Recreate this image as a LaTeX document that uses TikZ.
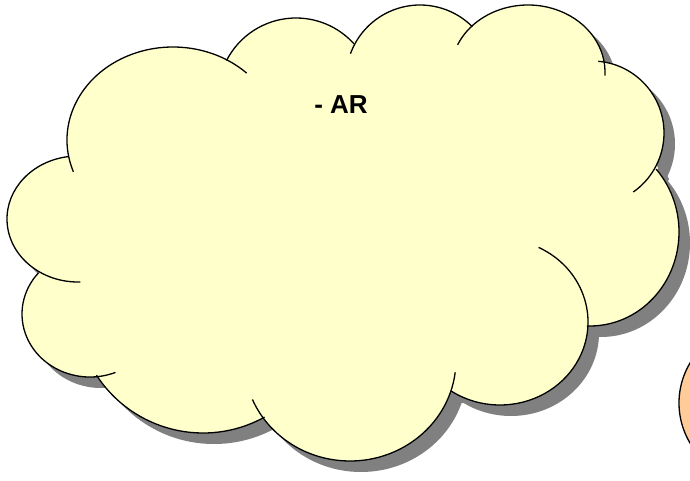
\documentclass[tikz,border=0pt]{standalone}
\usepackage{fontspec}
\setmainfont{Liberation Sans}
\definecolor{CloudColor}{RGB}{255,255,204}
\definecolor{ShadowColor}{RGB}{128,128,128}
\definecolor{BallColor}{RGB}{255,204,153}
% lobes of the cloud: centre x / centre y / x radius / y radius / start / end angle
\def\lobes{173/140/106/93/160/314, 296/96/78/78/207/318, 420/79/74/74/200/315,
  528/72/77/67/204/363, 592/133/72/72/275/415, 590/232/89/94/318/452,
  500/322/88/83/-64/124, 350/360/106/101/7/157, 203/306/127/127/61/147,
  90/314/68/63/68/221, 78/219/71/63/88/262}
\begin{document}
\begin{tikzpicture}[x=1pt, y=1pt, yscale=-1,
    lobeline/.style={black, line width=1.3pt},
    cloudtext/.style={font=\fontsize{26}{30}\selectfont\bfseries}]
    \useasboundingbox (0,0) rectangle (690,481);
    \clip (0,0) rectangle (690,481);
    % Shadow
    \begin{scope}[shift={(11,11)}]
        \foreach \cx/\cy/\rx/\ry/\a/\b in \lobes {\fill[ShadowColor] (\cx,\cy) ellipse[x radius=\rx, y radius=\ry];}
        \fill[ShadowColor] (68,157) -- (229,58) -- (357,40) -- (470,28) -- (603,62) -- (658,168)
            -- (588,323) -- (452,392) -- (263,418) -- (97,377) -- (38,273) -- cycle;
    \end{scope}
    % Cloud body
    \foreach \cx/\cy/\rx/\ry/\a/\b in \lobes {\fill[CloudColor] (\cx,\cy) ellipse[x radius=\rx, y radius=\ry];}
    \fill[CloudColor] (68,157) -- (229,58) -- (357,40) -- (470,28) -- (603,62) -- (658,168)
        -- (588,323) -- (452,392) -- (263,418) -- (97,377) -- (38,273) -- cycle;
    % Outline of the lobes
    \foreach \cx/\cy/\rx/\ry/\a/\b in \lobes {
        \draw[lobeline] (\cx,\cy) ++(\a:{\rx} and {\ry}) arc[start angle=\a, end angle=\b, x radius=\rx, y radius=\ry];
    }
    % Text
    \node[cloudtext] (ar) at (341,105) {- AR};
    % Ball at the right edge
    \draw[BallColor, fill=BallColor] (757,403) circle[radius=78];
    \draw[lobeline] (757,403) circle[radius=78];
\end{tikzpicture}
\end{document}
